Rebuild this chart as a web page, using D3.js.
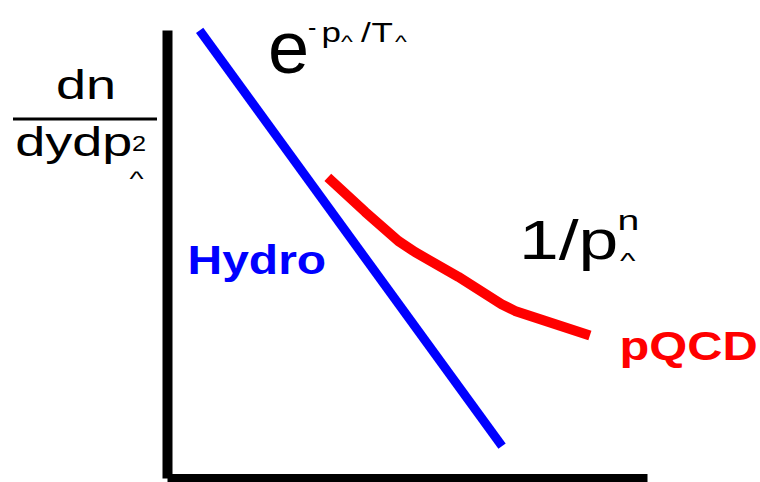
<!DOCTYPE html>
<html>
<head>
<meta charset="utf-8">
<script src="https://cdn.jsdelivr.net/npm/d3@7"></script>
<style>
  html, body { margin: 0; padding: 0; background: #fff; }
  svg { display: block; }
  text { font-family: "Liberation Sans", Arial, sans-serif; }
</style>
</head>
<body>
<svg id="chart" width="760" height="482"></svg>
<script>
// Schematic spectrum: transverse momentum (arbitrary units) vs. log yield (arbitrary units)
const hydroPt   = [6.8, 69.8];
const hydroLogN = [99.9, 7.1];

const pqcdPt   = [33.5, 41.3, 48.2, 51.7, 60.7, 69.7, 72.5, 88.1];
const pqcdLogN = [67.1, 59.4, 52.9, 50.4, 44.9, 38.8, 37.3, 31.8];

const svg = d3.select("#chart");

const x = d3.scaleLinear().domain([0, 100]).range([167, 647]);
const y = d3.scaleLinear().domain([0, 100]).range([478, 30]);

// Bare axes: heavy black spines, no ticks
const yAxis = svg.append("g")
  .attr("transform", `translate(${x(0)},0)`)
  .call(d3.axisLeft(y).tickValues([]).tickSizeOuter(0));
yAxis.select(".domain").attr("stroke", "#000").attr("stroke-width", 10);

const xAxis = svg.append("g")
  .attr("transform", `translate(0,${y(0)})`)
  .call(d3.axisBottom(x).tickValues([]).tickSizeOuter(0));
xAxis.select(".domain").attr("stroke", "#000").attr("stroke-width", 9);

const line = d3.line().x(d => x(d[0])).y(d => y(d[1]));

// Hydro: exponential falloff (straight on log scale)
svg.append("path")
  .datum(d3.zip(hydroPt, hydroLogN))
  .attr("d", line)
  .attr("fill", "none")
  .attr("stroke", "#0000ff")
  .attr("stroke-width", 9);

// pQCD: power-law tail
svg.append("path")
  .datum(d3.zip(pqcdPt, pqcdLogN))
  .attr("d", line)
  .attr("fill", "none")
  .attr("stroke", "#ff0000")
  .attr("stroke-width", 10)
  .attr("stroke-linejoin", "round");

// Text helper: horizontally stretched glyphs
function label(tx, ty, sx, str, size, opts = {}) {
  const g = svg.append("g").attr("transform", `translate(${tx},${ty}) scale(${sx},1)`);
  return g.append("text")
    .attr("x", 0).attr("y", 0)
    .attr("font-size", size)
    .attr("fill", opts.fill || "#000")
    .attr("font-weight", opts.bold ? "bold" : "normal")
    .attr("text-anchor", opts.anchor || "start")
    .text(str);
}

// y-axis title: dn / dy dp⊥²
label(86, 99, 1.35, "dn", 40, { anchor: "middle" });
svg.append("line")
  .attr("x1", 13).attr("x2", 157).attr("y1", 119).attr("y2", 119)
  .attr("stroke", "#000").attr("stroke-width", 3);
label(15.2, 156, 1.35, "dydp", 40);
label(132, 151, 1.15, "2", 22);
label(129.5, 186, 1.5, "^", 20);

// exponential label
label(268, 73, 1.0, "e", 74);
label(308, 36, 1.0, "-", 25);
label(321.5, 42, 1.25, "p", 28);
label(341, 48, 1.4, "^", 18);
label(361, 42, 1.25, "/", 28);
label(371.5, 42, 1.25, "T", 28);
label(395, 48, 1.4, "^", 18);

// power-law label
label(519, 259, 1.3, "1/p", 55);
label(617.5, 230, 1.4, "n", 28);
label(620, 268, 1.5, "^", 22);

// series labels
label(187.5, 274, 1.2, "Hydro", 40, { bold: true, fill: "#0000ff" });
label(619.5, 360, 1.22, "pQCD", 40, { bold: true, fill: "#ff0000" });
</script>
</body>
</html>
